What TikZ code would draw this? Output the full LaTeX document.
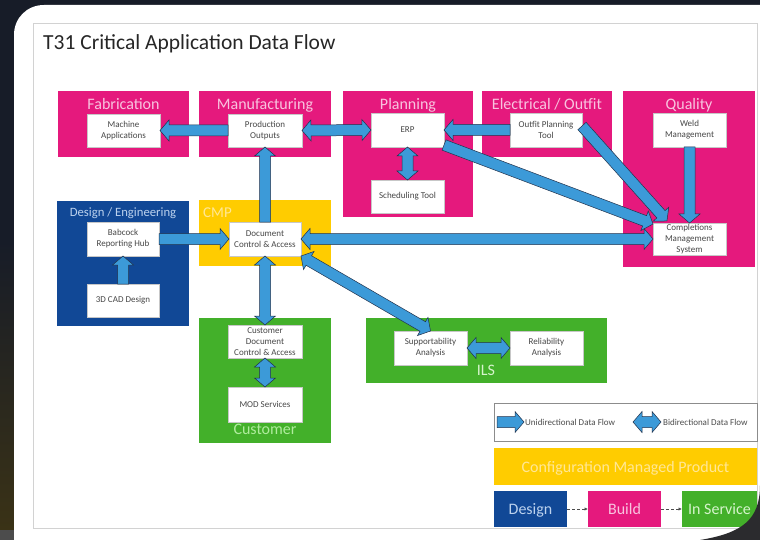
\documentclass[tikz,border=0pt]{standalone}
\usepackage{fontspec}
\setmainfont{Carlito}
\usetikzlibrary{calc,arrows.meta}
\definecolor{pinkc}{HTML}{E5197D}
\definecolor{bluec}{HTML}{114896}
\definecolor{yelc}{HTML}{FFCC00}
\definecolor{greenc}{HTML}{43B02A}
\definecolor{arrfill}{HTML}{3C9AD8}
\definecolor{arrline}{HTML}{22324C}
\definecolor{darkbg}{HTML}{171C28}
\definecolor{olivebg}{HTML}{3A3216}
\definecolor{cornerbg}{HTML}{2B2B2E}
\definecolor{slideborder}{HTML}{D2D2D2}
\definecolor{pinkt}{HTML}{F8C4DF}
\definecolor{bluet}{HTML}{BCD2EE}
\definecolor{yelt}{HTML}{FFE796}
\definecolor{greent}{HTML}{B0EC9E}
\definecolor{greent2}{HTML}{D6F4CC}
\definecolor{titlec}{HTML}{262626}
\def\Ash{5.5}\def\Ahh{10.5}\def\Ahl{9}
\tikzset{
  grp/.style={fill=#1, draw=none, inner sep=0pt, outer sep=0pt},
  wbox/.style={fill=white, draw=black!22, line width=0.4pt, inner sep=0.5pt, outer sep=0pt,
    align=center, font=\fontsize{9}{11}\selectfont, text=black!72},
  gt/.style={font=\fontsize{16}{18}\selectfont, inner sep=0pt, anchor=base},
  blockarr/.style={fill=arrfill, draw=arrline, line width=0.5pt, line join=miter},
  legtext/.style={font=\fontsize{9}{11}\selectfont, text=black!70, inner sep=0pt, anchor=base west},
  dasharr/.style={draw=black!70, line width=0.7pt, dash pattern=on 3pt off 2pt,
    -{Latex[length=3.5pt,width=3.5pt]}},
}
\newcommand\bx[7]{\node[#1, minimum width={#5pt-#3pt}, minimum height={#6pt-#4pt}] (#2) at ({(#3+#5)/2},{-(#4+#6)/2}) {#7};}
\newcommand\uniarrow[2]{%
 \path[blockarr] let \p1=(#1),\p2=(#2),\n1={atan2(\y2-\y1,\x2-\x1)},\n2={veclen(\x2-\x1,\y2-\y1)},\n3={\n2-\Ahl},\n4={\n1+90} in
  ($(\p1)+(\n4:\Ash)$) --
  ($(\p1)+(\n1:\n3)+(\n4:\Ash)$) --
  ($(\p1)+(\n1:\n3)+(\n4:\Ahh)$) --
  ($(\p1)+(\n1:\n2)$) --
  ($(\p1)+(\n1:\n3)+(\n4:-\Ahh)$) --
  ($(\p1)+(\n1:\n3)+(\n4:-\Ash)$) --
  ($(\p1)+(\n4:-\Ash)$) -- cycle;}
\newcommand\biarrow[2]{%
 \path[blockarr] let \p1=(#1),\p2=(#2),\n1={atan2(\y2-\y1,\x2-\x1)},\n2={veclen(\x2-\x1,\y2-\y1)},\n3={\n2-\Ahl},\n4={\n1+90} in
  ($(\p1)+(\n1:\Ahl)+(\n4:\Ash)$) --
  ($(\p1)+(\n1:\n3)+(\n4:\Ash)$) --
  ($(\p1)+(\n1:\n3)+(\n4:\Ahh)$) --
  ($(\p1)+(\n1:\n2)$) --
  ($(\p1)+(\n1:\n3)+(\n4:-\Ahh)$) --
  ($(\p1)+(\n1:\n3)+(\n4:-\Ash)$) --
  ($(\p1)+(\n1:\Ahl)+(\n4:-\Ash)$) --
  ($(\p1)+(\n1:\Ahl)+(\n4:-\Ahh)$) --
  (\p1) --
  ($(\p1)+(\n1:\Ahl)+(\n4:\Ahh)$) -- cycle;}
\begin{document}
\begin{tikzpicture}[x=1pt,y=1pt]
\useasboundingbox (0,0) rectangle (760,-540);
% screenshot background
\fill[darkbg] (0,0) rectangle (760,-540);
\shade[top color=darkbg, bottom color=olivebg] (0,-240) rectangle (16,-530);
\fill[black!70] (0,-530) rectangle (16,-540);
% white card
\fill[white] (14,-560) -- (14,-35) .. controls (14,-18) and (27,-5) .. (44,-5) -- (770,-5) -- (770,-560) -- cycle;
% slide border
\draw[slideborder, line width=0.7pt] (33,-23) rectangle (757,-528);
% title
\node[font=\fontsize{21.5}{24}\selectfont, text=titlec, anchor=base west, inner sep=0pt] (title) at (43,-50) {T31 Critical Application Data Flow};

% group boxes
\bx{grp=pinkc}{fab}{58}{91}{189}{157}{}
\bx{grp=pinkc}{man}{199}{91}{331}{157}{}
\bx{grp=pinkc}{pla}{343}{91}{473}{217}{}
\bx{grp=pinkc}{ele}{482}{91}{612}{157}{}
\bx{grp=pinkc}{qua}{623}{91}{755}{267}{}
\bx{grp=bluec}{des}{57}{201}{189}{326}{}
\bx{grp=yelc}{cmp}{199}{200}{331}{266}{}
\bx{grp=greenc}{cus}{199}{318}{331}{443}{}
\bx{grp=greenc}{ils}{366}{318}{607}{383}{}

% group titles
\node[gt, text=pinkt] (fabt) at (123.5,-110) {Fabrication};
\node[gt, text=pinkt] (mant) at (265,-110) {Manufacturing};
\node[gt, text=pinkt] (plat) at (408,-110) {Planning};
\node[gt, text=pinkt] (elet) at (547,-110) {Electrical / Outfit};
\node[gt, text=pinkt] (quat) at (689,-110) {Quality};
\node[gt, text=bluet, font=\fontsize{12.7}{14}\selectfont] (dest) at (123,-216) {Design / Engineering};
\node[gt, text=yelt, anchor=base west, font=\fontsize{15}{17}\selectfont] (cmpt) at (203,-218) {CMP};
\node[gt, text=greent] (cust) at (265,-434) {Customer};
\node[gt, text=greent2] (ilst) at (486,-375) {ILS};

% application boxes
\bx{wbox}{ma}{87}{114}{160}{147}{Machine\\Applications}
\bx{wbox}{po}{228}{114}{302}{147}{Production\\Outputs}
\bx{wbox}{erp}{371}{113}{444}{147}{ERP}
\bx{wbox}{st}{371}{180}{444}{213}{Scheduling Tool}
\bx{wbox}{opt}{510}{113}{582}{147}{Outfit Planning\\Tool}
\bx{wbox}{wm}{653}{113}{726}{147}{Weld\\Management}
\bx{wbox}{cms}{653}{223}{726}{255}{Completions\\Management\\System}
\bx{wbox}{brh}{87}{222}{159}{256}{Babcock\\Reporting Hub}
\bx{wbox}{cad}{87}{284}{159}{317}{3D CAD Design}
\bx{wbox}{dca}{229}{222}{301}{256}{Document\\Control \& Access}
\bx{wbox}{cdca}{228}{325}{302}{358}{Customer\\Document\\Control \& Access}
\bx{wbox}{mod}{228}{387}{302}{422}{MOD Services}
\bx{wbox}{sa}{394}{331}{467}{365}{Supportability\\Analysis}
\bx{wbox}{ra}{510}{331}{583}{365}{Reliability\\Analysis}

% data flows
\uniarrow{po.west}{ma.east}
\biarrow{po.east}{erp.west}
\uniarrow{dca.north}{po.south}
\biarrow{erp.south}{st.north}
\uniarrow{opt.west}{erp.east}
\uniarrow{$(erp.south east)+(0,2)$}{$(cms.north west)+(0,-1)$}
\uniarrow{$(opt.east)+(0,4)$}{$(cms.north west)+(14,2)$}
\uniarrow{wm.south}{cms.north}
\biarrow{dca.east}{cms.west}
\uniarrow{brh.east}{dca.west}
\uniarrow{cad.north}{brh.south}
\biarrow{dca.south}{cdca.north}
\biarrow{dca.south east}{sa.north}
\biarrow{cdca.south}{mod.north}
\biarrow{sa.east}{ra.west}

% legend
\bx{fill=white, draw=black!45, line width=0.6pt, inner sep=0pt}{leg}{494}{403}{757}{441}{}
\coordinate (lu1) at (497,-422);
\coordinate (lu2) at (524,-422);
\uniarrow{lu1}{lu2}
\node[legtext] (lut) at (525,-425) {Unidirectional Data Flow};
\coordinate (lb1) at (633,-422);
\coordinate (lb2) at (661,-422);
\biarrow{lb1}{lb2}
\node[legtext] (lbt) at (663,-425) {Bidirectional Data Flow};

\bx{grp=yelc}{cmpbar}{494}{448}{757}{485}{}
\node[gt, text=yelt] (cmpbart) at (625.5,-472) {Configuration Managed Product};
\bx{grp=bluec}{desb}{494}{491}{567}{527}{}
\bx{grp=pinkc}{build}{588}{491}{661}{527}{}
\bx{grp=greenc}{insvc}{682}{491}{757}{527}{}
\node[gt, text=bluet] (desbt) at (530.5,-514) {Design};
\node[gt, text=pinkt] (buildt) at (624.5,-514) {Build};
\node[gt, text=greent2] (insvct) at (719.5,-514) {In Service};
\draw[dasharr] (desb.east) -- (build.west);
\draw[dasharr] (build.east) -- (insvc.west);

% card corner at bottom right
\fill[cornerbg] (760,-485) .. controls (760,-520) and (742,-533) .. (700,-540) -- (760,-540) -- cycle;
\end{tikzpicture}
\end{document}
